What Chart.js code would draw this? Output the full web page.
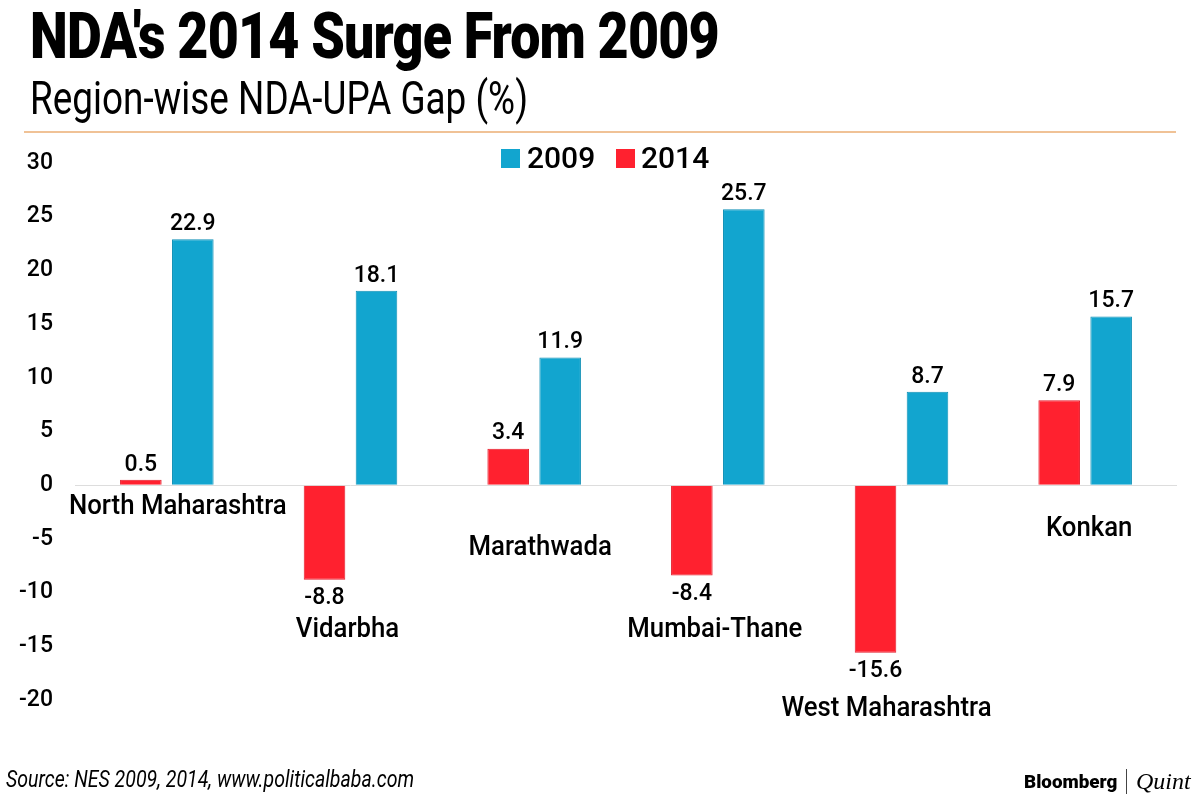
<!DOCTYPE html>
<html>
<head>
<meta charset="utf-8">
<script src="https://cdn.jsdelivr.net/npm/chart.js"></script>
<style>
  html, body { margin: 0; padding: 0; background: #fff; }
  #page { position: relative; width: 1200px; height: 798px; overflow: hidden; font-family: Roboto, sans-serif; color: #000; }
  #page div, #page span { position: absolute; white-space: nowrap; transform-origin: left top; }
  canvas { position: absolute; left: 0; top: 0; }
  #title { left: 30px; top: -2px; font-size: 65px; line-height: 76px; font-weight: 900; transform: scaleX(0.827); letter-spacing: -1px; }
  #subtitle { left: 30px; top: 69px; font-size: 47px; line-height: 58px; font-weight: 400; transform: scaleX(0.785); }
  #rule { left: 24px; top: 131px; width: 1152px; height: 2px; background: #f0c296; }
  .swatch { width: 19px; height: 19px; top: 149px; }
  .legtext { top: 139px; font-size: 30px; line-height: 38px; font-weight: 500; }
  #source { left: 6px; top: 766px; font-size: 23px; line-height: 28px; font-style: italic; transform: scaleX(0.85); }
  #bloomberg { left: 1024px; top: 770px; font-size: 19px; line-height: 24px; font-weight: 900; transform: scaleX(0.99); }
  #divider { left: 1126px; top: 769px; width: 1px; height: 25px; background: #444; }
  #quint { left: 1136px; top: 768px; font-family: "Liberation Serif", serif; font-style: italic; font-size: 24px; line-height: 26px; }
</style>
</head>
<body>
<div id="page">
  <canvas id="gapChart" width="1200" height="798"></canvas>
  <div id="title">NDA's 2014 Surge From 2009</div>
  <div id="subtitle">Region-wise NDA-UPA Gap (%)</div>
  <div id="rule"></div>
  <div class="swatch" style="left:501px;background:#12a5cf"></div>
  <div class="legtext" style="left:527px">2009</div>
  <div class="swatch" style="left:616px;background:#ff212f"></div>
  <div class="legtext" style="left:641px">2014</div>
  <div id="source">Source: NES 2009, 2014, www.politicalbaba.com</div>
  <div id="bloomberg">Bloomberg</div>
  <div id="divider"></div>
  <div id="quint">Quint</div>
</div>
<script>
const regions = ["North Maharashtra", "Vidarbha", "Marathwada", "Mumbai-Thane", "West Maharashtra", "Konkan"];
const gap2014 = [0.5, -8.8, 3.4, -8.4, -15.6, 7.9];
const gap2009 = [22.9, 18.1, 11.9, 25.7, 8.7, 15.7];

// region names are placed by hand in the original, not under the groups
const regionLabelY = [507, 630, 548, 630, 709, 529];
const regionLabelDx = [11, -3, 6, -3, -15, 4];

const barLabels = {
    id: "barLabels",
    afterDatasetsDraw(chart) {
        const ctx = chart.ctx;
        ctx.save();
        ctx.fillStyle = "#000";
        ctx.textAlign = "center";
        ctx.textBaseline = "middle";
        ctx.font = "500 23px Roboto";
        chart.data.datasets.forEach((ds, d) => {
            chart.getDatasetMeta(d).data.forEach((bar, i) => {
                const v = ds.data[i];
                const y = v < 0 ? bar.y + 19 : bar.y - 15;
                ctx.fillText(v.toFixed(1), bar.x, y);
            });
        });
        ctx.font = "500 28px Roboto";
        const xScale = chart.scales.x;
        regions.forEach((name, i) => {
            ctx.save();
            ctx.translate(xScale.getPixelForValue(i) + regionLabelDx[i], regionLabelY[i]);
            ctx.scale(0.92, 1);
            ctx.fillText(name, 0, 0);
            ctx.restore();
        });
        ctx.restore();
    }
};

new Chart(document.getElementById("gapChart"), {
    type: "bar",
    data: {
        labels: regions,
        datasets: [
            { label: "2014", data: gap2014, backgroundColor: "#ff212f", borderColor: "#e31c2b", borderWidth: 1 },
            { label: "2009", data: gap2009, backgroundColor: "#12a5cf", borderColor: "#0f90b6", borderWidth: 1 }
        ]
    },
    options: {
        responsive: false,
        animation: false,
        layout: { padding: { top: 163, bottom: 90, right: 23, left: 0 } },
        datasets: { bar: { categoryPercentage: 0.566, barPercentage: 0.8 } },
        plugins: { legend: { display: false }, tooltip: { enabled: false } },
        scales: {
            x: {
                ticks: { display: false },
                grid: { display: false },
                border: { display: false }
            },
            y: {
                min: -20,
                max: 30,
                afterFit: scale => { scale.width = 75; },
                ticks: { stepSize: 5, padding: 22, color: "#000", font: { family: "Roboto", size: 23, weight: "500" } },
                grid: {
                    drawTicks: false,
                    color: c => c.tick.value === 0 ? "#dddddd" : "rgba(0,0,0,0)"
                },
                border: { display: false }
            }
        }
    },
    plugins: [barLabels]
});
</script>
</body>
</html>
